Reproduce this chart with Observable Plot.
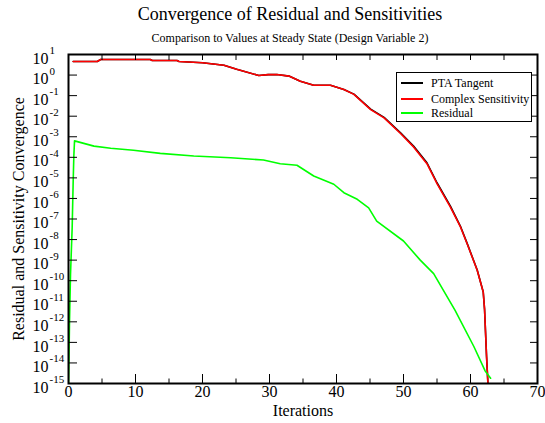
<!DOCTYPE html>
<html><head><meta charset="utf-8">
<script src="https://cdn.jsdelivr.net/npm/d3@7"></script>
<script src="https://cdn.jsdelivr.net/npm/@observablehq/plot@0.6"></script>
<style>
body{margin:0;background:#fff;}
#wrap{position:relative;width:545px;height:423px;font-family:"Liberation Serif","Times New Roman",serif;color:#000;}
#title{position:absolute;left:0;width:580px;top:5px;text-align:center;font-size:18px;line-height:18px;white-space:nowrap;}
#subtitle{position:absolute;left:0;width:580px;top:32px;text-align:center;font-size:12px;line-height:12px;white-space:nowrap;}
#legend{position:absolute;left:396px;top:72px;width:136px;height:50px;border:1px solid #000;background:#fff;box-sizing:border-box;}
.row{position:absolute;left:0;height:14px;font-size:12px;line-height:14px;white-space:nowrap;}
.sw{position:absolute;left:4px;top:6px;width:22px;height:2px;}
.lb{position:absolute;left:34px;top:0;}
#chart{position:absolute;left:0;top:0;}
</style>
</head><body>
<div id="wrap">
<div id="chart"></div>
<div id="title">Convergence of Residual and Sensitivities</div>
<div id="subtitle">Comparison to Values at Steady State (Design Variable 2)</div>
<div id="legend"></div>
</div>
<script>
// Complex Sensitivity (red)
const redX = [0.7, 4.3, 4.8, 12.2, 12.5, 16.2, 16.5, 20, 23.2, 25.1, 28.4, 29.8, 31.1, 32.9, 34.6, 36.6, 39.1, 41.1, 42.6, 45.1, 47.1, 49.6, 51.5, 53.5, 55, 57, 58.5, 59.5, 61, 61.9, 62.1, 62.4, 62.6, 62.65];
const redY = [4.6, 4.6, 5.7, 5.7, 5.1, 5.1, 4.6, 4.0, 3.0, 1.9, 0.95, 1.05, 1.07, 0.89, 0.5, 0.32, 0.32, 0.2, 0.115, 0.021, 8.3e-3, 1.4e-3, 3.2e-4, 4.9e-5, 5.2e-6, 3.8e-7, 4.1e-8, 6.3e-9, 3.2e-10, 2.8e-11, 4e-12, 2e-14, 1e-15, 1e-16];
// PTA Tangent (black), almost identical to the red curve
const ptaX = [0.7, 4.3, 4.8, 12.2, 12.5, 16.2, 16.5, 20, 23.2, 25.1, 28.4, 29.8, 31.1, 32.9, 34.6, 36.6, 39.1, 41.1, 42.6, 45.1, 47.1, 49.6, 51.5, 53.5, 55, 57, 58.5, 59.5, 61, 61.9, 62.1, 62.4, 62.6, 62.65];
const ptaY = [4.6, 4.6, 5.7, 5.7, 5.1, 5.1, 4.6, 4.0, 3.0, 1.9, 0.95, 1.05, 1.07, 0.89, 0.5, 0.32, 0.32, 0.2, 0.118, 0.022, 8.8e-3, 1.5e-3, 3.5e-4, 5.4e-5, 5.8e-6, 4.2e-7, 4.4e-8, 6.5e-9, 3.3e-10, 2.8e-11, 4e-12, 2e-14, 1e-15, 1e-16];
// Residual (green)
const greenX = [0, 0.05, 0.15, 0.3, 0.55, 0.7, 0.8, 0.9, 3.8, 6.3, 9.7, 13.7, 18.7, 24.2, 29.1, 31.6, 34.1, 36.6, 39.6, 41.1, 43.1, 44.8, 46.0, 50.0, 52.5, 54.5, 57.7, 60.5, 62.2, 63];
const greenY = [1e-15, 6.3e-15, 1e-12, 2e-10, 4e-8, 7.1e-6, 1.26e-4, 6.3e-4, 3.5e-4, 2.75e-4, 2.2e-4, 1.55e-4, 1.15e-4, 9.5e-5, 7.4e-5, 4.9e-5, 4.1e-5, 1.23e-5, 4.9e-6, 1.9e-6, 9.1e-7, 3.5e-7, 7.9e-8, 8.5e-9, 1.0e-9, 2.2e-10, 3.6e-12, 6.3e-14, 4e-15, 1.8e-15];

const xMajor = [0, 10, 20, 30, 40, 50, 60, 70];
const xMinor = [5, 15, 25, 35, 45, 55, 65];
const xTop = [5, 10, 15, 20, 25, 30, 35, 40, 45, 50, 55, 60, 65];
const yExp = [1, 0, -1, -2, -3, -4, -5, -6, -7, -8, -9, -10, -11, -12, -13, -14, -15];
const yTicks = yExp.map(e => Math.pow(10, e));

const seriesNames = ["PTA Tangent", "Complex Sensitivity", "Residual"];
const seriesColors = ["#000000", "#ff0000", "#00ff00"];

const toRows = (xs, ys) => xs.map((x, i) => ({x, y: ys[i]}));
const pta = toRows(ptaX, ptaY), red = toRows(redX, redY), green = toRows(greenX, greenY);

const blank = () => "";
const chart = Plot.plot({
  width: 545, height: 423,
  marginTop: 54, marginBottom: 40, marginLeft: 68, marginRight: 8,
  style: {fontFamily: "'Liberation Serif','Times New Roman',serif", fontSize: "16px", color: "#000", background: "transparent"},
  x: {domain: [0, 70]},
  y: {type: "log", domain: [1e-15, 10]},
  marks: [
    Plot.line(pta, {x: "x", y: "y", stroke: seriesColors[0], strokeWidth: 1.6, clip: true}),
    Plot.line(red, {x: "x", y: "y", stroke: seriesColors[1], strokeWidth: 1.6, clip: true}),
    Plot.line(green, {x: "x", y: "y", stroke: seriesColors[2], strokeWidth: 1.6, clip: true}),
    Plot.axisX({anchor: "bottom", ticks: xMajor, tickSize: -9, tickFormat: blank, label: null, stroke: "#000"}),
    Plot.axisX({anchor: "bottom", ticks: xMinor, tickSize: -4.5, tickFormat: blank, label: null, stroke: "#000"}),
    Plot.axisX({anchor: "top", ticks: xTop, tickSize: -5, tickFormat: blank, label: null, stroke: "#000"}),
    Plot.axisY({anchor: "left", ticks: yTicks, tickSize: -9, tickFormat: blank, label: null, stroke: "#000"}),
    Plot.axisY({anchor: "right", ticks: yTicks, tickSize: -8, tickFormat: blank, label: null, stroke: "#000"}),
    Plot.axisX({anchor: "bottom", ticks: xMajor, tickSize: 0, tickPadding: 2, fontSize: 16, label: null, tickFormat: d => String(d)}),
    Plot.text(yExp, {y: e => Math.pow(10, e), frameAnchor: "left", text: () => "10", textAnchor: "end", dx: -20, dy: 4, fontSize: 16}),
    Plot.text(yExp, {y: e => Math.pow(10, e), frameAnchor: "left", text: e => String(e), textAnchor: "start", dx: -19, dy: -4, fontSize: 11}),
    Plot.text(["Iterations"], {frameAnchor: "bottom", text: d => d, textAnchor: "middle", dy: 32, lineAnchor: "bottom", fontSize: 16}),
    Plot.text(["Residual and Sensitivity Convergence"], {frameAnchor: "left", text: d => d, textAnchor: "middle", rotate: -90, dx: -45, lineAnchor: "bottom", fontSize: 16}),
    Plot.frame({stroke: "#000", strokeWidth: 2})
  ]
});
document.getElementById("chart").appendChild(chart);

const legend = document.getElementById("legend");
const rowTops = [3, 18.5, 32.5];
seriesNames.forEach((name, i) => {
  const r = document.createElement("div");
  r.className = "row";
  r.style.top = rowTops[i] + "px";
  r.innerHTML = `<div class="sw" style="background:${seriesColors[i]}"></div><div class="lb">${name}</div>`;
  legend.appendChild(r);
});
</script>
</body></html>
